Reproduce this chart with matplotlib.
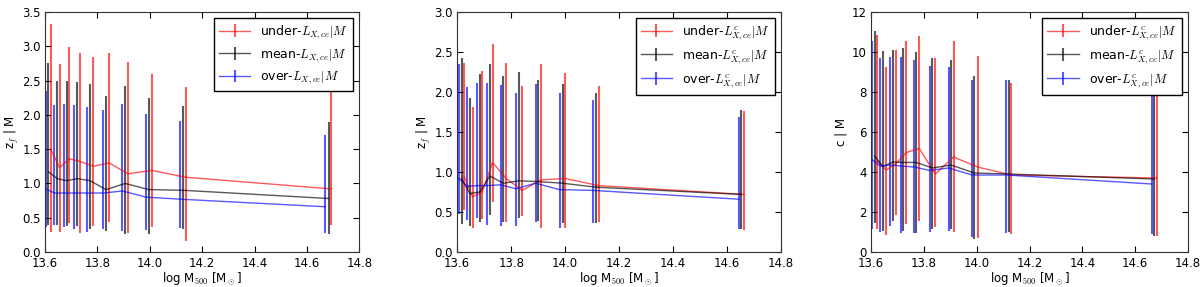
import numpy as np
import matplotlib
matplotlib.use('Agg')
import matplotlib.pyplot as plt

plt.rcParams['font.family'] = 'DejaVu Sans'
plt.rcParams['mathtext.fontset'] = 'cm'
plt.rcParams['xtick.direction'] = 'in'
plt.rcParams['ytick.direction'] = 'in'
plt.rcParams['xtick.top'] = True
plt.rcParams['ytick.right'] = True
plt.rcParams['xtick.major.size'] = 4
plt.rcParams['ytick.major.size'] = 4
plt.rcParams['axes.edgecolor'] = '#333333'

# Panel 1: z_f | M, L_X,ce samples
p1_x_under = [13.623, 13.656, 13.693, 13.734, 13.785, 13.845, 13.916, 14.008, 14.138, 14.693]
p1_y_under = [1.49, 1.23, 1.36, 1.32, 1.25, 1.30, 1.14, 1.19, 1.09, 0.92]
p1_lo_under = [0.29, 0.29, 0.42, 0.27, 0.38, 0.44, 0.27, 0.37, 0.16, 0.39]
p1_hi_under = [3.33, 2.74, 2.99, 2.90, 2.85, 2.90, 2.77, 2.60, 2.41, 2.33]

p1_x_mean = [13.613, 13.647, 13.683, 13.724, 13.772, 13.833, 13.906, 13.997, 14.126, 14.683]
p1_y_mean = [1.17, 1.07, 1.04, 1.07, 1.04, 0.91, 1.00, 0.91, 0.90, 0.78]
p1_lo_mean = [0.40, 0.39, 0.38, 0.38, 0.34, 0.30, 0.26, 0.26, 0.34, 0.26]
p1_hi_mean = [2.75, 2.50, 2.50, 2.48, 2.45, 2.28, 2.42, 2.24, 2.13, 1.89]

p1_x_over = [13.603, 13.636, 13.673, 13.711, 13.762, 13.823, 13.895, 13.986, 14.116, 14.670]
p1_y_over = [0.92, 0.86, 0.86, 0.86, 0.86, 0.86, 0.89, 0.80, 0.77, 0.66]
p1_lo_over = [0.37, 0.39, 0.37, 0.34, 0.29, 0.34, 0.31, 0.32, 0.35, 0.27]
p1_hi_over = [2.35, 2.14, 2.16, 2.14, 2.11, 2.07, 2.16, 2.01, 1.91, 1.70]

# Panel 2: z_f | M, L^c_X,ce samples
p2_x_under = [13.626, 13.657, 13.693, 13.731, 13.781, 13.841, 13.909, 13.998, 14.124, 14.662]
p2_y_under = [0.94, 0.69, 0.75, 1.12, 0.92, 0.77, 0.90, 0.92, 0.83, 0.72]
p2_lo_under = [0.52, 0.30, 0.41, 0.62, 0.37, 0.45, 0.30, 0.30, 0.37, 0.28]
p2_hi_under = [2.36, 1.81, 2.26, 2.60, 2.36, 2.07, 2.35, 2.24, 2.08, 1.76]

p2_x_mean = [13.616, 13.647, 13.684, 13.721, 13.771, 13.829, 13.898, 13.990, 14.114, 14.652]
p2_y_mean = [0.92, 0.73, 0.75, 0.95, 0.86, 0.89, 0.88, 0.86, 0.81, 0.72]
p2_lo_mean = [0.35, 0.32, 0.37, 0.46, 0.37, 0.42, 0.39, 0.36, 0.36, 0.29]
p2_hi_mean = [2.43, 1.93, 2.23, 2.35, 2.20, 2.25, 2.15, 2.10, 1.99, 1.78]

p2_x_over = [13.606, 13.638, 13.674, 13.711, 13.761, 13.818, 13.890, 13.979, 14.102, 14.643]
p2_y_over = [0.92, 0.82, 0.83, 0.83, 0.84, 0.79, 0.86, 0.78, 0.77, 0.66]
p2_lo_over = [0.47, 0.40, 0.42, 0.34, 0.33, 0.33, 0.37, 0.30, 0.36, 0.29]
p2_hi_over = [2.35, 2.06, 2.11, 2.11, 2.09, 1.99, 2.10, 1.99, 1.90, 1.69]

# Panel 3: c | M, L^c_X,ce samples
p3_x_under = [13.623, 13.657, 13.694, 13.732, 13.782, 13.843, 13.912, 14.003, 14.130, 14.682]
p3_y_under = [4.55, 4.10, 4.42, 4.97, 5.18, 3.90, 4.75, 4.25, 3.85, 3.70]
p3_lo_under = [1.15, 0.85, 1.87, 1.38, 1.55, 1.27, 1.02, 0.69, 0.89, 0.81]
p3_hi_under = [10.83, 9.27, 10.11, 10.55, 10.80, 9.70, 10.55, 9.78, 8.45, 10.0]

p3_x_mean = [13.613, 13.644, 13.682, 13.720, 13.770, 13.832, 13.902, 13.991, 14.121, 14.672]
p3_y_mean = [4.80, 4.27, 4.50, 4.48, 4.48, 4.20, 4.35, 3.95, 3.90, 3.65]
p3_lo_mean = [1.43, 1.05, 1.55, 1.05, 0.97, 1.15, 1.15, 0.66, 1.02, 0.81]
p3_hi_mean = [11.05, 10.06, 10.11, 10.19, 9.98, 9.68, 9.60, 8.80, 8.61, 9.5]

p3_x_over = [13.603, 13.634, 13.672, 13.713, 13.763, 13.821, 13.893, 13.983, 14.111, 14.663]
p3_y_over = [4.63, 4.30, 4.35, 4.30, 4.25, 4.08, 4.20, 3.85, 3.85, 3.40]
p3_lo_over = [1.15, 1.02, 1.32, 0.94, 0.94, 1.02, 1.05, 0.74, 0.94, 0.89]
p3_hi_over = [10.55, 9.68, 9.73, 9.73, 9.60, 9.32, 9.27, 8.61, 8.58, 7.84]

labels_p1 = [r'under-$L_{X,ce}|M$', r'mean-$L_{X,ce}|M$', r'over-$L_{X,ce}|M$']
labels_c = [r'under-$L^{c}_{X,ce}|M$', r'mean-$L^{c}_{X,ce}|M$', r'over-$L^{c}_{X,ce}|M$']
colors = ['red', 'black', 'blue']


def draw_series(ax, x, y, lo, hi, color, label):
    y = np.array(y)
    err = [y - np.array(lo), np.array(hi) - y]
    ax.errorbar(x, y, yerr=err, color=color, alpha=0.65, lw=1.0,
                elinewidth=1.5, capsize=0, label=label)


fig = plt.figure(figsize=(12, 2.87), dpi=100)
ax1 = fig.add_axes([0.0375, 0.122, 0.262, 0.836])
ax2 = fig.add_axes([0.381, 0.122, 0.270, 0.836])
ax3 = fig.add_axes([0.726, 0.122, 0.264, 0.836])

panels = [
    (ax1, [(p1_x_under, p1_y_under, p1_lo_under, p1_hi_under),
           (p1_x_mean, p1_y_mean, p1_lo_mean, p1_hi_mean),
           (p1_x_over, p1_y_over, p1_lo_over, p1_hi_over)], labels_p1),
    (ax2, [(p2_x_under, p2_y_under, p2_lo_under, p2_hi_under),
           (p2_x_mean, p2_y_mean, p2_lo_mean, p2_hi_mean),
           (p2_x_over, p2_y_over, p2_lo_over, p2_hi_over)], labels_c),
    (ax3, [(p3_x_under, p3_y_under, p3_lo_under, p3_hi_under),
           (p3_x_mean, p3_y_mean, p3_lo_mean, p3_hi_mean),
           (p3_x_over, p3_y_over, p3_lo_over, p3_hi_over)], labels_c),
]

for ax, series, labels in panels:
    for (x, y, lo, hi), c, lab in zip(series, colors, labels):
        draw_series(ax, x, y, lo, hi, c, lab)
    ax.set_xlim(13.6, 14.8)
    ax.set_xticks(np.arange(13.6, 14.81, 0.2))
    ax.tick_params(labelsize=8.5)
    ax.tick_params(axis='x', pad=3.5)
    ax.tick_params(axis='y', pad=3)
    ax.set_xlabel(r'log M$_{500}$ [M$_\odot$]', fontsize=8.5, labelpad=0)
    leg = ax.legend(loc='upper right', fontsize=9, fancybox=False,
                    framealpha=1, edgecolor='black', handlelength=2.5,
                    borderaxespad=0.5)
    leg.get_frame().set_linewidth(1.0)

ax1.set_ylim(0, 3.5)
ax1.set_yticks(np.arange(0, 3.51, 0.5))
ax1.set_ylabel(r'z$_f$ | M', fontsize=8.5, labelpad=1)

ax2.set_ylim(0, 3.0)
ax2.set_yticks(np.arange(0, 3.01, 0.5))
ax2.set_ylabel(r'z$_f$ | M', fontsize=8.5, labelpad=1)

ax3.set_ylim(0, 12)
ax3.set_yticks(np.arange(0, 12.1, 2))
ax3.set_ylabel('c | M', fontsize=8.5, labelpad=3)

fig.savefig('out.png', dpi=100)
